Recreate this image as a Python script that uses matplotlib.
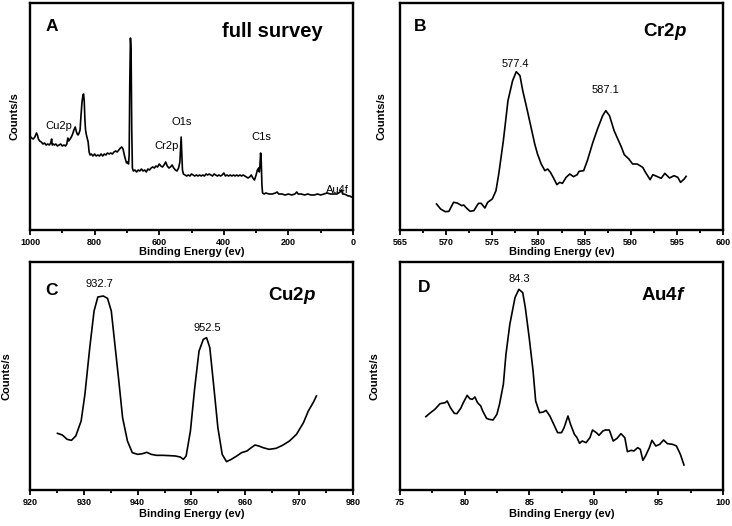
import matplotlib
matplotlib.use("Agg")
import matplotlib.pyplot as plt
from matplotlib.ticker import MultipleLocator

plt.rcParams['font.family'] = ['Liberation Sans', 'DejaVu Sans']
plt.rcParams['mathtext.fontset'] = 'custom'
plt.rcParams['mathtext.rm'] = 'Liberation Sans:bold'
plt.rcParams['mathtext.bf'] = 'Liberation Sans:bold'
plt.rcParams['mathtext.it'] = 'Liberation Sans:bold:italic'

# ---------------- Data ----------------
survey_energy = [1000, 995, 990, 985, 980, 977, 974, 970, 965, 960, 955, 950, 945, 940, 936, 933, 931, 928,
                 924, 920, 915, 910, 905, 900, 895, 890, 886, 883, 880, 876, 872, 868, 864, 860, 857, 854,
                 851, 848, 845, 842, 839, 836, 834, 832, 830, 828, 826, 823, 820, 817, 814, 810, 805, 800,
                 795, 790, 785, 780, 775, 770, 765, 760, 755, 750, 745, 740, 735, 730, 725, 720, 716, 712,
                 708, 704, 701, 698, 695, 693, 691, 689, 687, 685, 683, 680, 675, 670, 665, 660, 655, 650,
                 645, 640, 635, 630, 625, 620, 615, 610, 605, 600, 595, 590, 585, 580, 575, 570, 565, 560,
                 555, 550, 545, 540, 536, 534, 532, 530, 528, 525, 520, 515, 510, 505, 500, 495, 490, 485,
                 480, 475, 470, 465, 460, 455, 450, 445, 440, 435, 430, 425, 420, 415, 410, 405, 400, 395,
                 390, 385, 380, 375, 370, 365, 360, 355, 350, 345, 340, 335, 330, 325, 320, 315, 310, 305,
                 300, 296, 292, 290, 288, 286, 284, 282, 280, 275, 270, 260, 250, 240, 235, 230, 220, 210,
                 200, 190, 180, 174, 170, 160, 150, 140, 130, 120, 110, 100, 90, 80, 70, 60, 50, 45, 40,
                 36, 32, 28, 20, 15, 10, 5, 0]
survey_counts = [94, 92, 91, 93, 97, 95, 91, 89, 88, 86, 87, 85, 86, 85, 87, 91, 85, 86,
                 85, 86, 84, 85, 86, 84, 85, 84, 86, 92, 89, 91, 93, 96, 100, 103, 99, 96,
                 95, 97, 100, 115, 128, 135, 136, 128, 110, 100, 96, 92, 88, 78, 75, 76, 74, 76,
                 74, 75, 74, 76, 74, 76, 75, 77, 76, 77, 76, 78, 79, 78, 80, 82, 83, 81,
                 75, 70, 67, 68, 66, 75, 150, 192, 180, 100, 62, 59, 60, 58, 60, 59, 61, 59,
                 60, 58, 61, 60, 62, 63, 62, 64, 63, 66, 64, 63, 65, 68, 64, 62, 63, 65,
                 62, 60, 59, 62, 68, 80, 93, 75, 60, 56, 55, 54, 55, 54, 56, 55, 54, 55,
                 54, 55, 54, 55, 54, 56, 55, 56, 55, 54, 56, 55, 54, 55, 54, 55, 57, 54,
                 55, 54, 55, 54, 55, 54, 55, 54, 55, 54, 55, 54, 53, 52, 53, 55, 52, 50,
                 55, 60, 62, 58, 65, 77, 68, 45, 37, 36, 37, 36, 36, 37, 38, 36, 36, 35,
                 36, 35, 36, 38, 36, 36, 35, 36, 35, 35, 36, 35, 36, 37, 36, 36, 36, 37, 38,
                 40, 36, 36, 35, 34, 34, 33, 33]
survey_labels = ["Cu2p", "Cr2p", "O1s", "C1s", "Au4f"]
survey_label_pos = [(912, 104), (576, 84), (531, 108), (285, 93), (48, 40)]

cr_energy = [568.96, 569.4, 569.9, 570.3, 570.8, 571.2, 571.7, 571.9, 572.2, 572.6, 573.0, 573.5,
             573.8, 574.2, 574.5, 575.0, 575.4, 575.7, 576.2, 576.7, 577.2, 577.6, 578.0, 578.3,
             578.8, 579.2, 579.6, 579.9, 580.3, 580.7, 581.0, 581.3, 581.6, 582.0, 582.3, 582.6,
             583.0, 583.4, 583.8, 584.2, 584.4, 584.9, 585.3, 585.9, 586.4, 586.96, 587.3, 587.7,
             588.2, 588.6, 589.0, 589.3, 589.8, 590.2, 590.7, 591.3, 591.6, 592.1, 592.4, 592.9,
             593.3, 593.7, 594.2, 594.7, 595.1, 595.4, 595.8, 596.0]
cr_counts_px = [610, 625, 633, 632, 605, 607, 615, 613, 622, 632, 630, 608,
                608, 622, 605, 595, 570, 520, 420, 300, 240, 213, 225, 270,
                330, 380, 430, 460, 490, 510, 505, 515, 530, 552, 545, 548,
                530, 520, 528, 522, 512, 510, 480, 425, 385, 345, 330, 345,
                390, 415, 440, 462, 475, 490, 490, 500, 515, 537, 522, 528,
                533, 518, 532, 525, 530, 545, 535, 527]
cr_counts = [(688 - p) / 3 for p in cr_counts_px]
cr_peaks = ["577.4", "587.1"]
cr_peak_pos = [(577.5, 166), (587.3, 140)]

cu_energy = [925.1, 926.0, 926.9, 927.7, 928.5, 929.5, 930.2, 931.1, 931.9, 932.6, 933.6, 934.4,
             935.1, 935.7, 936.5, 937.2, 938.1, 939.0, 940.0, 940.9, 941.7, 942.5, 943.5, 944.7,
             946.0, 947.0, 947.9, 948.5, 949.0, 949.8, 950.6, 951.4, 952.2, 952.8, 953.4, 954.1,
             954.9, 955.7, 956.5, 957.4, 958.4, 959.3, 960.3, 961.1, 961.8, 962.5, 963.3, 964.4,
             965.7, 966.9, 968.2, 969.5, 970.8, 971.7, 972.7, 973.2]
cu_counts_px = [507, 512, 525, 528, 515, 470, 390, 250, 140, 98, 95, 102,
                140, 230, 350, 460, 530, 565, 570, 568, 564, 570, 573, 573,
                574, 575, 578, 585, 575, 500, 370, 260, 225, 220, 250, 360,
                490, 570, 592, 585, 575, 565, 560, 550, 542, 545, 550, 555,
                552, 543, 530, 510, 475, 440, 412, 395]
cu_counts = [(677 - p) / 3 for p in cu_counts_px]
cu_peaks = ["932.7", "952.5"]
cu_peak_pos = [(932.9, 206), (952.9, 162)]

au_energy = [77.0, 77.3, 77.7, 78.1, 78.5, 78.65, 78.9, 79.2, 79.4, 79.7, 79.9, 80.2, 80.4, 80.6,
             80.8, 81.0, 81.25, 81.4, 81.7, 81.9, 82.2, 82.5, 82.7, 83.0, 83.2, 83.5, 83.9, 84.2,
             84.5, 84.7, 85.0, 85.3, 85.5, 85.8, 86.1, 86.3, 86.6, 86.9, 87.2, 87.5, 87.7, 88.0,
             88.2, 88.5, 88.7, 88.9, 89.1, 89.4, 89.7, 89.9, 90.2, 90.4, 90.7, 90.9, 91.2, 91.5,
             91.8, 92.1, 92.4, 92.6, 92.9, 93.1, 93.4, 93.6, 93.8, 94.0, 94.3, 94.5, 94.8, 95.1,
             95.4, 95.7, 96.1, 96.4, 96.7, 96.98]
au_counts_px = [457, 447, 435, 418, 415, 410, 430, 447, 448, 432, 415, 393, 403, 405,
                398, 415, 425, 440, 462, 465, 467, 450, 420, 360, 270, 180, 100, 75,
                85, 130, 220, 320, 410, 445, 443, 438, 455, 480, 505, 505, 490, 455,
                480, 510, 520, 537, 530, 535, 520, 497, 505, 513, 500, 497, 497, 530,
                522, 508, 520, 562, 558, 560, 550, 555, 588, 575, 550, 528, 545, 540,
                527, 538, 540, 545, 570, 602]
au_counts = [(677 - p) / 3 for p in au_counts_px]
au_peaks = ["84.3"]
au_peak_pos = [(84.2, 211)]

# ---------------- Figure ----------------
fig = plt.figure(figsize=(7.32, 5.26), dpi=100)
W, H = 732, 526

def make_ax(l, r, t, b):
    return fig.add_axes([l / W, 1 - b / H, (r - l) / W, (b - t) / H])

axA = make_ax(30, 353, 3, 230)
axB = make_ax(400, 723, 3, 230)
axC = make_ax(30, 353, 262, 490)
axD = make_ax(400, 723, 262, 490)

def style(ax, xlim, major, minor, ylim, xlab_y, ylab_x):
    ax.set_xlim(*xlim)
    ax.set_ylim(*ylim)
    ax.xaxis.set_major_locator(MultipleLocator(major))
    ax.xaxis.set_minor_locator(MultipleLocator(minor))
    ax.set_yticks([])
    for s in ax.spines.values():
        s.set_linewidth(1.7)
    ax.tick_params(axis='x', which='major', direction='out', length=3.5, width=1.3,
                   labelsize=6.5, pad=2.0)
    ax.tick_params(axis='x', which='minor', direction='out', length=2.5, width=1.3)
    for lab in ax.get_xticklabels():
        lab.set_fontweight('bold')
    ax.set_xlabel("Binding Energy (ev)", fontsize=8, fontweight='bold')
    ax.xaxis.set_label_coords(0.5, xlab_y)
    ax.set_ylabel("Counts/s", fontsize=8, fontweight='bold')
    ax.yaxis.set_label_coords(ylab_x, 0.5)

lw = 1.2
TS = 13.5
# A
axA.plot(survey_energy, survey_counts, color='black', lw=lw)
style(axA, (1000, 0), 200, 100, (0, 227), -0.075, -0.031)
for t, (x, y) in zip(survey_labels, survey_label_pos):
    axA.text(x, y, t, fontsize=8, ha='center', va='center')
axA.text(0.067, 0.895, "A", transform=axA.transAxes, fontsize=12.5, fontweight='bold',
         ha='center', va='center')
axA.text(0.75, 0.875, "full survey", transform=axA.transAxes, fontsize=14.5, fontweight='bold',
         ha='center', va='center')

# B
axB.plot(cr_energy, cr_counts, color='black', lw=lw)
style(axB, (565, 600), 5, 2.5, (0, 227), -0.075, -0.043)
for t, (x, y) in zip(cr_peaks, cr_peak_pos):
    axB.text(x, y, t, fontsize=8, ha='center', va='center')
axB.text(0.062, 0.895, "B", transform=axB.transAxes, fontsize=12.5, fontweight='bold',
         ha='center', va='center')
axB.text(0.82, 0.875, r"Cr2$p$", transform=axB.transAxes, fontsize=TS, fontweight='bold',
         ha='center', va='center')

# C
axC.plot(cu_energy, cu_counts, color='black', lw=lw)
style(axC, (920, 980), 10, 5, (0, 228), -0.083, -0.056)
for t, (x, y) in zip(cu_peaks, cu_peak_pos):
    axC.text(x, y, t, fontsize=8, ha='center', va='center')
axC.text(0.067, 0.873, "C", transform=axC.transAxes, fontsize=12.5, fontweight='bold',
         ha='center', va='center')
axC.text(0.811, 0.855, r"Cu2$p$", transform=axC.transAxes, fontsize=TS, fontweight='bold',
         ha='center', va='center')

# D
axD.plot(au_energy, au_counts, color='black', lw=lw)
style(axD, (75, 100), 5, 2.5, (0, 228), -0.083, -0.062)
for t, (x, y) in zip(au_peaks, au_peak_pos):
    axD.text(x, y, t, fontsize=8, ha='center', va='center')
axD.text(0.074, 0.886, "D", transform=axD.transAxes, fontsize=12.5, fontweight='bold',
         ha='center', va='center')
axD.text(0.815, 0.855, r"Au4$f$", transform=axD.transAxes, fontsize=TS, fontweight='bold',
         ha='center', va='center')

fig.savefig("out.png", dpi=100)
